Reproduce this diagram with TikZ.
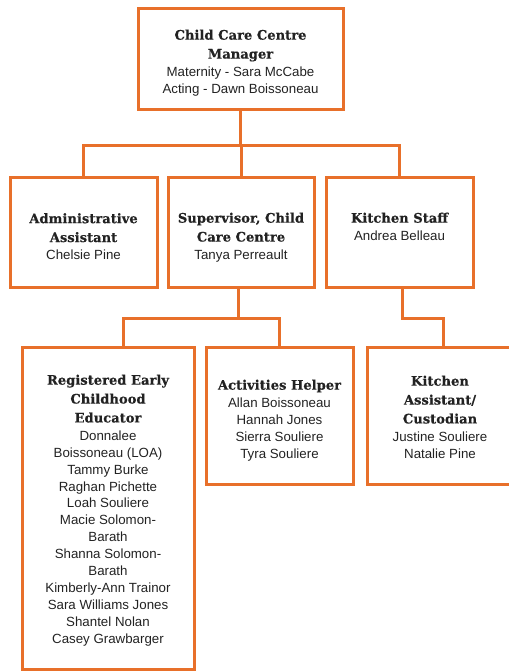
\documentclass[tikz,border=0pt]{standalone}
\usepackage{fontspec}
\setmainfont{Liberation Sans}
\newfontfamily\slabfont{DejaVu Serif}[BoldFeatures={FakeBold=0.4}]
\definecolor{chartorange}{RGB}{232,112,42}
\definecolor{ink}{RGB}{34,34,34}
\newcommand\ttl{\slabfont\bfseries\fontsize{13.1}{19}\selectfont}
\begin{document}
\begin{tikzpicture}[x=1pt,y=-1pt,
  box/.style={draw=chartorange, line width=3pt, rectangle, inner sep=0pt},
  conn/.style={draw=chartorange, line width=3pt},
  txt/.style={align=center, text=ink, inner sep=0pt, anchor=north,
    font=\fontsize{13.3}{16.9}\selectfont}]
\useasboundingbox (0,0) rectangle (508,671);

% boxes
\node[box, minimum width=205pt, minimum height=101pt] (mgr) at (240.5,59.5) {};
\node[box, minimum width=147pt, minimum height=110pt] (adm) at (83.5,232) {};
\node[box, minimum width=146pt, minimum height=110pt] (sup) at (241,232) {};
\node[box, minimum width=147pt, minimum height=110pt] (kit) at (399.5,232) {};
\node[box, minimum width=172pt, minimum height=322pt] (rece) at (108,508) {};
\node[box, minimum width=147pt, minimum height=137pt] (act) at (279.5,415.5) {};
\node[box, minimum width=146pt, minimum height=137pt] (asst) at (440,415.5) {};

% texts
\node[txt] (tmgr) at ([yshift=-22pt]mgr.north)
  {{\ttl Child Care Centre}\\[2pt]{\ttl Manager}\\[1pt]Maternity - Sara McCabe\\Acting - Dawn Boissoneau};
\node[txt] (tadm) at ([yshift=-37.5pt]adm.north)
  {{\ttl Administrative}\\[2pt]{\ttl Assistant}\\[1pt]Chelsie Pine};
\node[txt] (tsup) at ([yshift=-37pt]sup.north)
  {{\ttl Supervisor, Child}\\[2pt]{\ttl Care Centre}\\[1pt]Tanya Perreault};
\node[txt] (tkit) at ([yshift=-37pt]kit.north)
  {{\ttl Kitchen Staff}\\[1pt]Andrea Belleau};
\node[txt] (trece) at ([yshift=-29pt]rece.north)
  {{\ttl Registered Early}\\[2pt]{\ttl Childhood}\\[2pt]{\ttl Educator}\\[1pt]Donnalee\\Boissoneau (LOA)\\Tammy Burke\\Raghan Pichette\\Loah Souliere\\Macie Solomon-\\Barath\\Shanna Solomon-\\Barath\\Kimberly-Ann Trainor\\Sara Williams Jones\\Shantel Nolan\\Casey Grawbarger};
\node[txt] (tact) at ([yshift=-34pt]act.north)
  {{\ttl Activities Helper}\\[1pt]Allan Boissoneau\\Hannah Jones\\Sierra Souliere\\Tyra Souliere};
\node[txt] (tasst) at ([yshift=-30pt]asst.north)
  {{\ttl Kitchen}\\[2pt]{\ttl Assistant/}\\[2pt]{\ttl Custodian}\\[1pt]Justine Souliere\\Natalie Pine};

% connectors
\coordinate (bus1) at (0,146);
\coordinate (bus2) at (0,318);
\draw[conn] (mgr.south) -- (mgr.south |- bus1);
\draw[conn] (adm.north) |- (kit.north |- bus1) -- (kit.north);
\draw[conn] (sup.north) -- (sup.north |- bus1);
\draw[conn] ([xshift=-3pt]sup.south) -- ([xshift=-3pt]sup.south |- bus2);
\draw[conn] ([xshift=15pt]rece.north) |- (act.north |- bus2) -- (act.north);
\draw[conn] ([xshift=3pt]kit.south) |- ([xshift=3pt]asst.north |- bus2) -- ([xshift=3pt]asst.north);
\end{tikzpicture}
\end{document}
